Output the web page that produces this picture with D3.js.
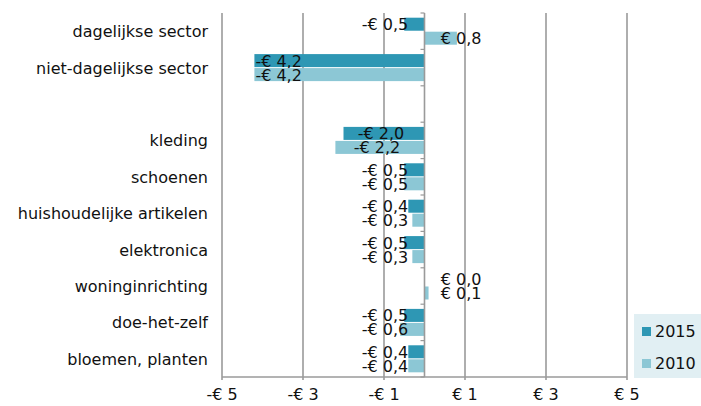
<!DOCTYPE html>
<html>
<head>
<meta charset="utf-8">
<script src="https://cdn.jsdelivr.net/npm/d3@7"></script>
<style>
  body { margin: 0; background: #fff; }
  svg { display: block; font-family: "DejaVu Sans", Verdana, sans-serif; }
</style>
</head>
<body>
<div id="chart"></div>
<script>
// data
var categories = ["dagelijkse sector", "niet-dagelijkse sector", "", "kleding", "schoenen",
    "huishoudelijke artikelen", "elektronica", "woninginrichting", "doe-het-zelf", "bloemen, planten"];
var series = ["2015", "2010"];
var values2015 = [-0.5, -4.2, null, -2.0, -0.5, -0.4, -0.5, 0.0, -0.5, -0.4];
var values2010 = [0.8, -4.2, null, -2.2, -0.5, -0.3, -0.3, 0.1, -0.6, -0.4];
var xTicks = [-5, -3, -1, 1, 3, 5];
var colors = ["#2e97b4", "#8cc7d5"];

var width = 701, height = 406;
var svg = d3.select("#chart").append("svg")
    .attr("width", width)
    .attr("height", height);

var x = d3.scaleLinear().domain([-5, 5]).range([222, 627]);
var y = d3.scaleBand().domain(d3.range(categories.length)).range([13, 377]);
var ySub = d3.scaleBand().domain(series).range([0, y.bandwidth()])
    .paddingInner(0.07).paddingOuter(0.335);

function euro(v) {
    var s = "€ " + Math.abs(v).toFixed(1).replace(".", ",");
    return v < 0 ? "-" + s : s;
}

// gridlines
svg.append("g").selectAll("line")
    .data(xTicks)
    .enter().append("line")
    .attr("x1", function(d) { return x(d); })
    .attr("x2", function(d) { return x(d); })
    .attr("y1", 13)
    .attr("y2", 380)
    .attr("stroke", "#9a9a9a")
    .attr("stroke-width", 1.6);

// bottom axis line
svg.append("line")
    .attr("x1", x(-5)).attr("x2", x(5))
    .attr("y1", 377).attr("y2", 377)
    .attr("stroke", "#9a9a9a")
    .attr("stroke-width", 1.6);

// tick labels
svg.append("g").selectAll("text")
    .data(xTicks)
    .enter().append("text")
    .attr("x", function(d) { return x(d); })
    .attr("y", 400)
    .attr("text-anchor", "middle")
    .attr("font-size", "16px")
    .attr("fill", "#111")
    .text(function(d) { return d < 0 ? "-€ " + Math.abs(d) : "€ " + d; });

// category labels
svg.append("g").selectAll("text")
    .data(categories)
    .enter().append("text")
    .attr("x", 208)
    .attr("y", function(d, i) { return y(i) + y.bandwidth() / 2 + 6; })
    .attr("text-anchor", "end")
    .attr("font-size", "16px")
    .attr("fill", "#111")
    .text(function(d) { return d; });

// rows
var rows = categories.map(function(c, i) {
    return [{ s: "2015", v: values2015[i], i: i }, { s: "2010", v: values2010[i], i: i }];
});

var bars = svg.append("g").selectAll("g")
    .data(rows)
    .enter().append("g")
    .attr("transform", function(d, i) { return "translate(0," + y(i) + ")"; })
    .selectAll("g")
    .data(function(d) { return d.filter(function(e) { return e.v !== null; }); })
    .enter().append("g");

bars.append("rect")
    .attr("x", function(d) { return Math.min(x(0), x(d.v)); })
    .attr("width", function(d) { return Math.abs(x(d.v) - x(0)); })
    .attr("y", function(d) { return ySub(d.s); })
    .attr("height", ySub.bandwidth())
    .attr("fill", function(d) { return colors[series.indexOf(d.s)]; });

// value labels, placed like the excel original
bars.append("text")
    .attr("x", function(d) {
        if (d.v >= 0) return x(0.4);
        if (d.v < -3) return x(d.v) + 1;
        if (d.v < -1) return (x(d.v) + x(0)) / 2 - 3;
        return x(-0.4);
    })
    .attr("text-anchor", function(d) {
        if (d.v >= 0 || d.v < -3) return "start";
        if (d.v < -1) return "middle";
        return "end";
    })
    .attr("y", function(d) { return ySub(d.s) + ySub.bandwidth() / 2 + 6; })
    .attr("font-size", "16px")
    .attr("fill", "#111")
    .text(function(d) { return euro(d.v); });

// zero line with ticks
svg.append("line")
    .attr("x1", x(0)).attr("x2", x(0))
    .attr("y1", 13).attr("y2", 377)
    .attr("stroke", "#9a9a9a")
    .attr("stroke-width", 1.6);

svg.append("g").selectAll("line")
    .data(d3.range(categories.length + 1))
    .enter().append("line")
    .attr("x1", x(0) - 4).attr("x2", x(0))
    .attr("y1", function(i) { return 13 + i * y.step(); })
    .attr("y2", function(i) { return 13 + i * y.step(); })
    .attr("stroke", "#9a9a9a")
    .attr("stroke-width", 1.2);

// legend
var legend = svg.append("g");
legend.append("rect")
    .attr("x", 634).attr("y", 314)
    .attr("width", 67).attr("height", 64)
    .attr("fill", "#e1eff3");

var items = legend.selectAll("g")
    .data(series)
    .enter().append("g")
    .attr("transform", function(d, i) { return "translate(642," + (327 + i * 32) + ")"; });

items.append("rect")
    .attr("width", 9).attr("height", 9)
    .attr("fill", function(d, i) { return colors[i]; });

items.append("text")
    .attr("x", 13).attr("y", 10)
    .attr("font-size", "16px")
    .attr("fill", "#111")
    .text(function(d) { return d; });
</script>
</body>
</html>
